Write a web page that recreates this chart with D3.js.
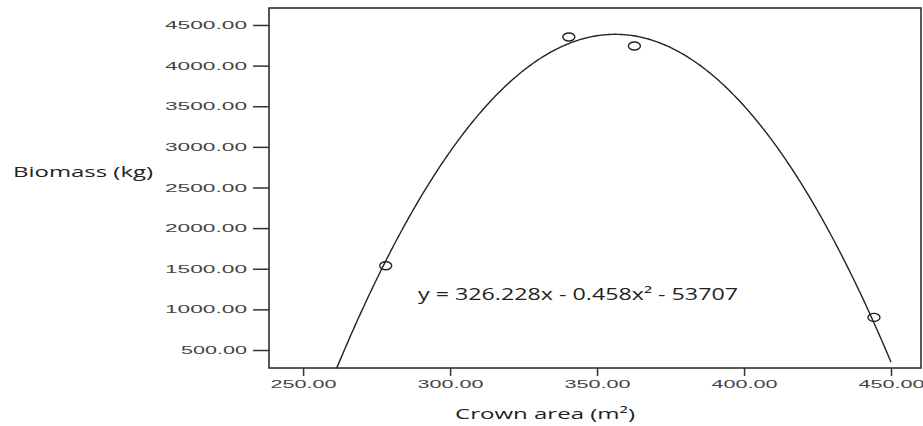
<!DOCTYPE html>
<html lang="en">

<head>
  <meta charset="utf-8">
  <title>Biomass vs crown area</title>
  <script type="text/javascript" src="https://cdn.jsdelivr.net/npm/d3@7"></script>
  <style type="text/css">
    body { margin: 0; background: #fff; }
    svg { display: block; }
  </style>
</head>

<body>
  <script type="text/javascript">
    // Data
    const crownArea = [278.1, 340.4, 362.7, 444.2];
    const biomass = [1537, 4352, 4241, 901];

    // Fitted curve coefficients (as printed on the chart)
    const coefLinear = 326.228;
    const coefSquare = -0.458;
    const coefConst = -53707;
    const fitRange = [261.4, 450];

    const xTicks = [250, 300, 350, 400, 450];
    const yTicks = [500, 1000, 1500, 2000, 2500, 3000, 3500, 4000, 4500];

    const w = 923;
    const h = 426;

    // plot box
    const boxLeft = 269, boxRight = 921, boxTop = 8, boxBottom = 368;

    const xScale = d3.scaleLinear()
      .domain([238.4, 460.2])
      .range([boxLeft, boxRight]);

    const yScale = d3.scaleLinear()
      .domain([278.5, 4709])
      .range([boxBottom, boxTop]);

    const svg = d3.select("body")
      .append("svg")
      .attr("width", w)
      .attr("height", h);

    // frame
    svg.append("rect")
      .attr("x", boxLeft)
      .attr("y", boxTop)
      .attr("width", boxRight - boxLeft)
      .attr("height", boxBottom - boxTop)
      .attr("fill", "none")
      .attr("stroke", "#222")
      .attr("stroke-width", 1.5);

    // label stretch: the original picture is widened, so fit each label to its length
    function stretch(sel) {
      sel.each(function () {
        const t = d3.select(this).text();
        const digits = t.replace(/[^0-9]/g, "").length;
        d3.select(this)
          .attr("textLength", 16 * digits - 14)
          .attr("lengthAdjust", "spacingAndGlyphs");
      });
    }

    // y axis
    const yAxis = svg.append("g")
      .attr("transform", "translate(" + boxLeft + ",0)")
      .call(d3.axisLeft(yScale)
        .tickValues(yTicks)
        .tickSize(16)
        .tickPadding(6)
        .tickFormat(d3.format(".2f")));
    yAxis.select(".domain").remove();
    yAxis.selectAll("line").attr("stroke", "#333").attr("stroke-width", 1.5);
    yAxis.selectAll("text")
      .attr("fill", "#444")
      .style("font-family", "'Liberation Sans', Arial, sans-serif")
      .style("font-size", "11px")
      .call(stretch);

    // x axis
    const xAxis = svg.append("g")
      .attr("transform", "translate(0," + boxBottom + ")")
      .call(d3.axisBottom(xScale)
        .tickValues(xTicks)
        .tickSize(8)
        .tickPadding(4)
        .tickFormat(d3.format(".2f")));
    xAxis.select(".domain").remove();
    xAxis.selectAll("line").attr("stroke", "#333").attr("stroke-width", 1.5);
    xAxis.selectAll("text")
      .attr("fill", "#444")
      .style("font-family", "'Liberation Sans', Arial, sans-serif")
      .style("font-size", "11px")
      .call(stretch);

    // fitted quadratic curve
    const fitX = d3.range(fitRange[0], fitRange[1], 0.5).concat([fitRange[1]]);
    const line = d3.line()
      .x(function (d) { return xScale(d); })
      .y(function (d) { return yScale(coefLinear * d + coefSquare * d * d + coefConst); });

    svg.append("path")
      .datum(fitX)
      .attr("d", line)
      .attr("fill", "none")
      .attr("stroke", "#222")
      .attr("stroke-width", 1.4);

    // observed points (drawn as wide ellipses like the stretched original)
    svg.selectAll("ellipse")
      .data(crownArea)
      .enter()
      .append("ellipse")
      .attr("cx", function (d) { return xScale(d); })
      .attr("cy", function (d, i) { return yScale(biomass[i]); })
      .attr("rx", 6)
      .attr("ry", 4)
      .attr("fill", "none")
      .attr("stroke", "#222")
      .attr("stroke-width", 1.4);

    // texts
    const labelFont = "'Open Sans', 'Noto Sans', sans-serif";

    svg.append("text")
      .attr("x", 13)
      .attr("y", 177)
      .attr("textLength", 140)
      .attr("lengthAdjust", "spacingAndGlyphs")
      .style("font-family", labelFont)
      .style("font-size", "15px")
      .attr("fill", "#222")
      .text("Biomass (kg)");

    svg.append("text")
      .attr("x", 455)
      .attr("y", 419)
      .attr("textLength", 180)
      .attr("lengthAdjust", "spacingAndGlyphs")
      .style("font-family", labelFont)
      .style("font-size", "15px")
      .attr("fill", "#222")
      .text("Crown area (m²)");

    svg.append("text")
      .attr("x", 418)
      .attr("y", 300)
      .attr("textLength", 320)
      .attr("lengthAdjust", "spacingAndGlyphs")
      .style("font-family", labelFont)
      .style("font-size", "16px")
      .attr("fill", "#222")
      .text("y = 326.228x - 0.458x² - 53707");
  </script>
</body>

</html>
